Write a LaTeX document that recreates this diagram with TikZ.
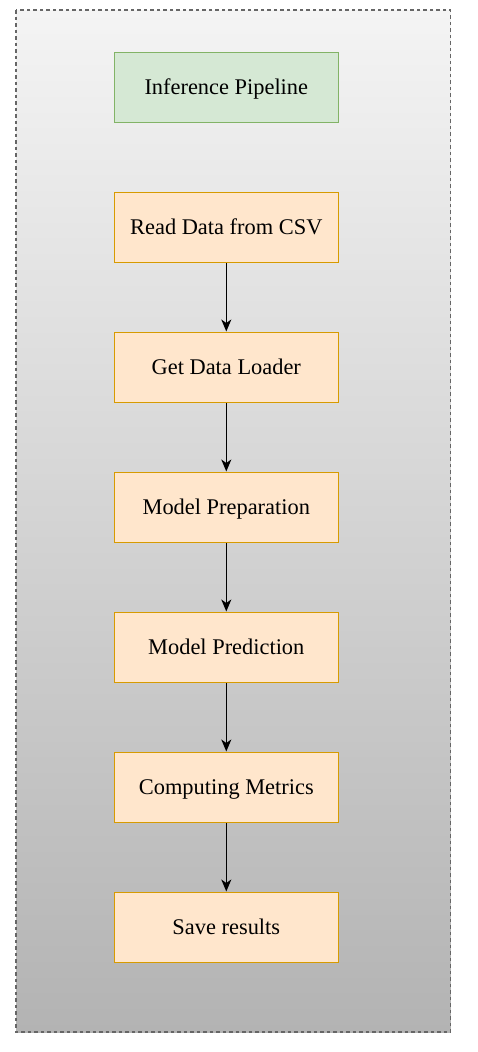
\documentclass[tikz,border=0pt]{standalone}
\usepackage{fontspec}
\setmainfont{Liberation Serif}
\usetikzlibrary{arrows.meta}
\definecolor{greenfill}{HTML}{D5E8D4}
\definecolor{greenline}{HTML}{82B366}
\definecolor{orangefill}{HTML}{FFE6CC}
\definecolor{orangeline}{HTML}{D79B00}
\definecolor{bgtop}{HTML}{F4F4F4}
\definecolor{bgbot}{HTML}{B3B3B3}
\definecolor{dashgray}{HTML}{666666}
\tikzset{
  box/.style={rectangle, minimum width=224.5pt, minimum height=70.5pt, inner sep=0pt,
    text height=14.8pt, text depth=0pt,
    line width=1.1pt, font=\fontsize{22.4pt}{26pt}\selectfont},
  titlebox/.style={box, fill=greenfill, draw=greenline},
  stepbox/.style={box, fill=orangefill, draw=orangeline},
  flow/.style={line width=1.4pt, -{Stealth[length=12pt,width=10pt,inset=3.5pt]}}
}
\begin{document}
\begin{tikzpicture}[x=1pt,y=-1pt]
\useasboundingbox (0,0) rectangle (478,1052);
\shade[top color=bgtop, bottom color=bgbot] (16,10) rectangle (450.5,1032);
\draw[dashgray, line width=1.1pt, dash pattern=on 3.5pt off 3pt] (16,10) rectangle (450.5,1032);
\node[titlebox] (title) at (226.3,87.3) {Inference Pipeline};
\node[stepbox] (read) at (226.3,227.3) {Read Data from CSV};
\node[stepbox] (loader) at (226.3,367.3) {Get Data Loader};
\node[stepbox] (prep) at (226.3,507.3) {Model Preparation};
\node[stepbox] (pred) at (226.3,647.3) {Model Prediction};
\node[stepbox] (metrics) at (226.3,787.3) {Computing Metrics};
\node[stepbox] (save) at (226.3,927.3) {Save results};
\draw[flow] (read) -- (loader);
\draw[flow] (loader) -- (prep);
\draw[flow] (prep) -- (pred);
\draw[flow] (pred) -- (metrics);
\draw[flow] (metrics) -- (save);
\end{tikzpicture}
\end{document}
